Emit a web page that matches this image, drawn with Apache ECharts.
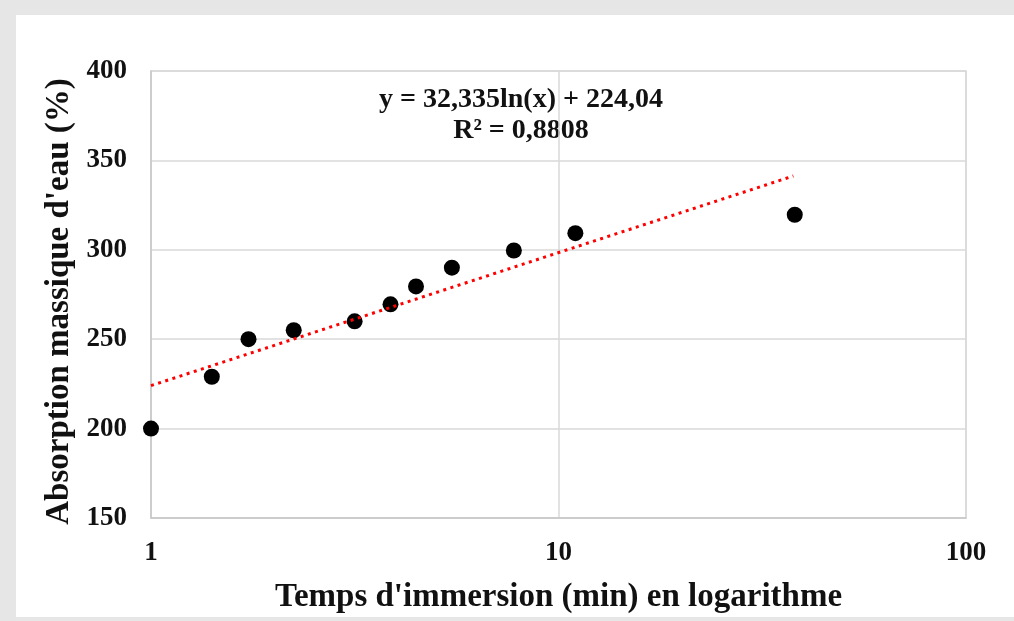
<!DOCTYPE html>
<html><head><meta charset="utf-8">
<script src="https://cdn.jsdelivr.net/npm/echarts@6/dist/echarts.min.js"></script>
<style>html,body{margin:0;padding:0;background:#e6e6e6;}#c{width:1014px;height:621px;}</style>
</head><body><div id="c"></div>
<script>
const timeMin = [1, 1.41, 1.735, 2.24, 3.16, 3.87, 4.47, 5.475, 7.77, 11.0, 38.0];
const absorption = [200, 229, 250, 255, 260, 269.5, 279.5, 290, 299.6, 309.3, 319.6];
const trendX = [1, 37.7];
const trendY = [224.04, 341.3];
const yTicks = [150, 400, 50];
const equationText = ['y = 32,335ln(x) + 224,04', 'R² = 0,8808'];
const xTitle = "Temps d'immersion (min) en logarithme";
const yTitle = "Absorption massique d'eau (%)";

const font = '"Liberation Serif", "Times New Roman", serif';
const chart = echarts.init(document.getElementById('c'));
chart.setOption({
  animation: false,
  backgroundColor: '#e6e6e6',
  graphic: [
    { type: 'rect', left: 16, top: 15, shape: { width: 998, height: 602 }, style: { fill: '#ffffff' }, z: -10 },
    { type: 'text', style: { text: equationText[0], x: 521, y: 100, textAlign: 'center', textVerticalAlign: 'middle', font: 'bold 28px ' + font, fill: '#111' } },
    { type: 'text', style: { text: equationText[1], x: 521, y: 131, textAlign: 'center', textVerticalAlign: 'middle', font: 'bold 28px ' + font, fill: '#111' } }
  ],
  grid: { left: 151, right: 48, top: 71, bottom: 103, show: true, borderColor: '#d9d9d9', borderWidth: 1.5 },
  xAxis: {
    type: 'log', logBase: 10, min: 1, max: 100,
    name: xTitle, nameLocation: 'middle', nameGap: 63,
    nameTextStyle: { fontFamily: font, fontWeight: 'bold', fontSize: 33, color: '#111' },
    axisLine: { show: true, lineStyle: { color: '#c8c8c8', width: 1.5 } },
    axisTick: { show: false },
    axisLabel: { fontFamily: font, fontWeight: 'bold', fontSize: 27, color: '#111', margin: 22 },
    splitLine: { show: true, lineStyle: { color: '#d9d9d9', width: 1.5 } },
    minorTick: { show: false }
  },
  yAxis: {
    type: 'value', min: yTicks[0], max: yTicks[1], interval: yTicks[2],
    name: yTitle, nameLocation: 'middle', nameGap: 74,
    nameTextStyle: { fontFamily: font, fontWeight: 'bold', fontSize: 33, color: '#111', padding: [0, 14, 0, 0] },
    axisLine: { show: true, lineStyle: { color: '#c8c8c8', width: 1.5 } },
    axisTick: { show: false },
    axisLabel: { fontFamily: font, fontWeight: 'bold', fontSize: 27, color: '#111', margin: 24 },
    splitLine: { show: true, lineStyle: { color: '#d9d9d9', width: 1.5 } }
  },
  series: [
    {
      type: 'scatter', symbol: 'circle', symbolSize: 16,
      itemStyle: { color: '#000', opacity: 1 },
      data: timeMin.map((t, i) => [t, absorption[i]]), z: 2
    },
    {
      type: 'line', showSymbol: false, symbol: 'none',
      lineStyle: { color: '#ff0000', width: 3, type: [3, 4.5] },
      data: trendX.map((t, i) => [t, trendY[i]]), z: 3
    }
  ]
});
</script></body></html>
